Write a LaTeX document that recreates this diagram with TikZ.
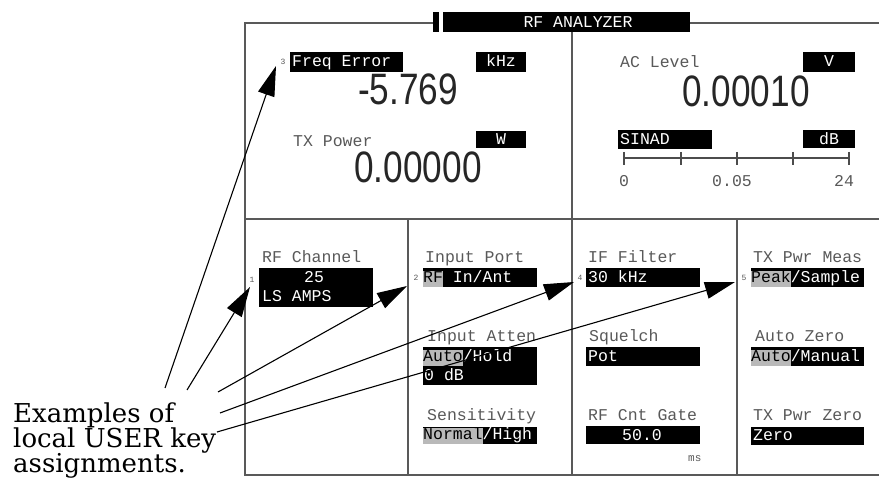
\documentclass[tikz,border=0pt]{standalone}
\usepackage{graphicx}
\usepackage{fontspec}
\setmainfont{Liberation Serif}
\newfontfamily\capf{DejaVu Serif}
\newfontfamily\lcd{Liberation Mono}
\newfontfamily\bigf{Liberation Sans}
\usetikzlibrary{arrows.meta}
\definecolor{lcdgray}{gray}{0.35}
\newcommand\selp[1]{{\setlength\fboxsep{0pt}\colorbox{gray!55}{\rule[-4pt]{0pt}{16pt}\color{black}#1}}}
\newcommand\bignum[1]{\scalebox{0.8}[1]{\bigf\fontsize{44}{44}\selectfont #1}}
\begin{document}
\begin{tikzpicture}[x=1pt,y=-1pt,
 frame/.style={draw=black!65, line width=1.5pt},
 fld/.style={fill=black, draw=none, inner sep=0pt, anchor=north west},
 lbl/.style={font=\lcd\fontsize{16.5}{16.5}\selectfont, text=lcdgray, inner sep=0pt, anchor=base west},
 ftxt/.style={font=\lcd\fontsize{16.5}{16.5}\selectfont, text=white, inner sep=0pt, anchor=base west},
 mrk/.style={font=\lcd\fontsize{8}{8}\selectfont, text=lcdgray, inner sep=0pt},
 big/.style={inner sep=0pt, text=black!85, anchor=base},
 captxt/.style={font=\capf\fontsize{26}{26}\selectfont, inner sep=0pt, anchor=base west},
 userarrow/.style={draw=black, line width=1.1pt, -{Triangle[length=30pt,width=17pt]}}]
\useasboundingbox (0,0) rectangle (879,494);
\fill[white] (0,0) rectangle (879,494);
% frame
\draw[frame] (433,23) -- (245,23) -- (245,475) -- (879,475);
\draw[frame] (690,23) -- (879,23);
\draw[frame] (245,219) -- (879,219);
\draw[frame] (572,32) -- (572,475);
\draw[frame] (408,219) -- (408,475);
\draw[frame] (737,219) -- (737,475);
% header
\node[fld, minimum width=6pt, minimum height=20pt] (hbar) at (433,12) {};
\node[fld, minimum width=247pt, minimum height=20pt] (hbox) at (443,12) {};
\node[ftxt, anchor=base] (htxt) at (578,28) {RF ANALYZER};
% top left
\node[mrk] (m3) at (283,62) {3};
\node[fld, minimum width=113pt, minimum height=20pt] (fFreq) at (290,52) {};
\node[ftxt] (tFreq) at (292,67) {Freq Error};
\node[fld, minimum width=50pt, minimum height=20pt] (fkHz) at (476,52) {};
\node[ftxt, anchor=base] (tkHz) at (501,67) {kHz};
\node[big] (vFreq) at (408,105) {\bignum{-5.769}};
\node[lbl] (lTX) at (293,147) {TX Power};
\node[fld, minimum width=50pt, minimum height=17pt] (fW) at (476,131) {};
\node[ftxt, anchor=base] (tW) at (501,145) {W};
\node[big] (vTX) at (418,183) {\bignum{0.00000}};
% top right
\node[lbl] (lAC) at (620,68) {AC Level};
\node[fld, minimum width=52pt, minimum height=20pt] (fV) at (803,52) {};
\node[ftxt, anchor=base] (tV) at (829,67) {V};
\node[big] (vAC) at (746,107) {\bignum{0.00010}};
\node[fld, minimum width=94pt, minimum height=19pt] (fSIN) at (618,130) {};
\node[ftxt] (tSIN) at (620,145) {SINAD};
\node[fld, minimum width=52pt, minimum height=18pt] (fdB) at (803,130) {};
\node[ftxt, anchor=base] (tdB) at (829,145) {dB};
\draw[black!70, line width=1.2pt] (624,158) -- (849,158);
\foreach \t in {624,681,737,793,849} \draw[black!70, line width=1.2pt] (\t,152) -- (\t,165);
\node[lbl, anchor=base] (s0) at (624,187) {0};
\node[lbl, anchor=base] (s1) at (732,187) {0.05};
\node[lbl, anchor=base] (s2) at (844,187) {24};
% column 1
\node[lbl] (lRFC) at (262,263) {RF Channel};
\node[mrk] (m1) at (252,280) {1};
\node[fld, minimum width=114pt, minimum height=39pt] (fRFC) at (259,268) {};
\node[ftxt, anchor=base] (tRFC1) at (314,283) {25};
\node[ftxt] (tRFC2) at (262,302) {LS AMPS};
% column 2
\node[lbl] (lIP) at (425,263) {Input Port};
\node[mrk] (m2) at (416,278) {2};
\node[fld, minimum width=114pt, minimum height=19pt] (fIP) at (423,268) {};
\node[ftxt] (tIP) at (423,283) {\selp{RF} In/Ant};
\node[lbl] (lIA) at (427,342) {Input Atten};
\node[fld, minimum width=114pt, minimum height=38pt] (fIA) at (423,347) {};
\node[ftxt] (tIA1) at (423,362) {\selp{Auto}/Hold};
\node[ftxt] (tIA2) at (424,381) {0 dB};
\node[lbl] (lSe) at (427,421) {Sensitivity};
\node[fld, minimum width=114pt, minimum height=17pt] (fSe) at (423,427) {};
\node[ftxt] (tSe) at (423,440) {\selp{Normal}/High};
% column 3
\node[lbl] (lIF) at (588,263) {IF Filter};
\node[mrk] (m4) at (580,278) {4};
\node[fld, minimum width=114pt, minimum height=19pt] (fIF) at (586,268) {};
\node[ftxt] (tIF) at (588,283) {30 kHz};
\node[lbl] (lSq) at (589,342) {Squelch};
\node[fld, minimum width=114pt, minimum height=19pt] (fSq) at (586,347) {};
\node[ftxt] (tSq) at (588,362) {Pot};
\node[lbl] (lRG) at (588,421) {RF Cnt Gate};
\node[fld, minimum width=114pt, minimum height=18pt] (fRG) at (586,426) {};
\node[ftxt, anchor=base] (tRG) at (642,441) {50.0};
\node[lbl, font=\lcd\fontsize{11}{11}\selectfont] (lms) at (688,461) {ms};
% column 4
\node[lbl] (lTM) at (753,263) {TX Pwr Meas};
\node[mrk] (m5) at (744,278) {5};
\node[fld, minimum width=113pt, minimum height=19pt] (fTM) at (751,268) {};
\node[ftxt] (tTM) at (751,283) {\selp{Peak}/Sample};
\node[lbl] (lAZ) at (755,342) {Auto Zero};
\node[fld, minimum width=113pt, minimum height=19pt] (fAZ) at (751,347) {};
\node[ftxt] (tAZ) at (751,362) {\selp{Auto}/Manual};
\node[lbl] (lTZ) at (753,421) {TX Pwr Zero};
\node[fld, minimum width=113pt, minimum height=18pt] (fTZ) at (751,427) {};
\node[ftxt] (tTZ) at (753,441) {Zero};
% caption
\node[captxt] (cap1) at (13,423) {Examples of};
\node[captxt] (cap2) at (13,448) {local USER key};
\node[captxt] (cap3) at (13,472) {assignments.};
% arrows
\coordinate (sA) at (165,388); \coordinate (t3) at (276,66);
\coordinate (sB) at (187,390); \coordinate (t1) at (250,287);
\coordinate (sC) at (218,392); \coordinate (t2) at (407,286);
\coordinate (sD) at (220,413); \coordinate (t4) at (574,282);
\coordinate (sE) at (217,432); \coordinate (t5) at (735,282);
\draw[userarrow] (sA) -- (t3);
\draw[userarrow] (sB) -- (t1);
\draw[userarrow] (sC) -- (t2);
\draw[userarrow] (sD) -- (t4);
\draw[userarrow] (sE) -- (t5);
\end{tikzpicture}
\end{document}
